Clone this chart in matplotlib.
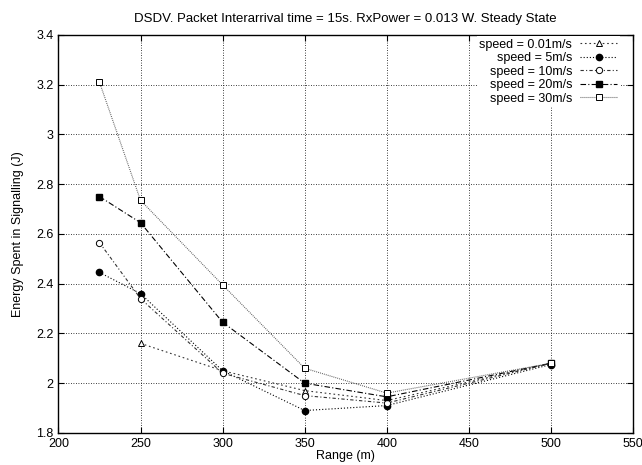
"""DSDV signalling energy vs range, gnuplot-like style."""

import matplotlib
matplotlib.use("Agg")
from matplotlib import pyplot as plt

plt.rcParams['font.family'] = ['Liberation Sans', 'DejaVu Sans']

# data
range_001 = [250, 300, 350, 400, 500]
energy_001 = [2.16, 2.05, 1.97, 1.93, 2.08]
range_all = [225, 250, 300, 350, 400, 500]
energy_5 = [2.445, 2.36, 2.05, 1.89, 1.91, 2.075]
energy_10 = [2.565, 2.34, 2.04, 1.95, 1.92, 2.08]
energy_20 = [2.75, 2.645, 2.245, 2.0, 1.945, 2.08]
energy_30 = [3.21, 2.735, 2.395, 2.06, 1.96, 2.08]

labels = ['speed = 0.01m/s', 'speed = 5m/s', 'speed = 10m/s', 'speed = 20m/s', 'speed = 30m/s']
x_ticks = [200, 250, 300, 350, 400, 450, 500, 550]
y_ticks = [1.8, 2.0, 2.2, 2.4, 2.6, 2.8, 3.0, 3.2, 3.4]

fig = plt.figure(figsize=(6.42, 4.65), dpi=100)
ax = fig.add_axes([0.091, 0.069, 0.895, 0.856])

lw = 0.8
ax.plot(range_001, energy_001, color='#333333', lw=lw, dashes=(1.5, 2.5), marker='^', ms=4.5,
        mfc='white', mec='black', mew=0.7, label=labels[0])
ax.plot(range_all, energy_5, color='black', lw=lw, dashes=(1, 1.8), marker='o', ms=4.5,
        mfc='black', mec='black', label=labels[1])
ax.plot(range_all, energy_10, color='#333333', lw=lw, dashes=(3, 2, 1, 2), marker='o', ms=4.5,
        mfc='white', mec='black', mew=0.7, label=labels[2])
ax.plot(range_all, energy_20, color='black', lw=lw, dashes=(5, 2, 1, 2), marker='s', ms=5,
        mfc='black', mec='black', label=labels[3])
ax.plot(range_all, energy_30, color='#555555', lw=lw, dashes=(0.8, 1), marker='s', ms=5,
        mfc='white', mec='black', mew=0.7, label=labels[4])

ax.set_xlim(200, 550)
ax.set_ylim(1.8, 3.4)
ax.set_xticks(x_ticks)
ax.set_yticks(y_ticks)
ax.set_yticklabels(['1.8', '2', '2.2', '2.4', '2.6', '2.8', '3', '3.2', '3.4'])
ax.tick_params(direction='in', top=True, right=True, labelsize=9, length=4, width=0.8)
ax.tick_params(axis='x', pad=4)
ax.grid(True, color='black', linestyle=(0, (1, 2)), linewidth=0.6)
for spine in ax.spines.values():
    spine.set_linewidth(1.0)

ax.set_xlabel('Range (m)', fontsize=9, labelpad=0)
ax.set_ylabel('Energy Spent in Signalling (J)', fontsize=9, labelpad=9)
ax.set_title('DSDV. Packet Interarrival time = 15s. RxPower = 0.013 W. Steady State', fontsize=9.5, pad=9)

leg = ax.legend(loc='upper right', bbox_to_anchor=(0.977, 0.997), frameon=True, markerfirst=False,
                fontsize=9, handlelength=3.0, handletextpad=0.6, labelspacing=0.12,
                borderaxespad=0, borderpad=0.2, facecolor='white', edgecolor='none',
                framealpha=1, fancybox=False)

fig.savefig('out.png', dpi=100)
